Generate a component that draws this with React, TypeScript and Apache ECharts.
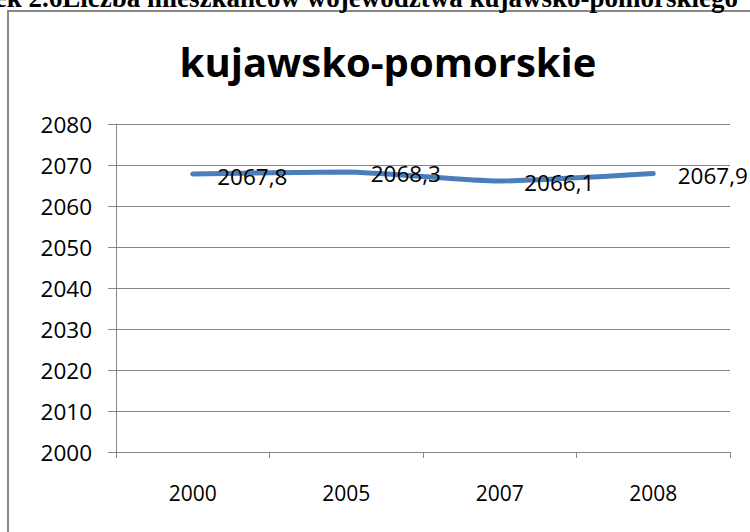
import React, { useEffect, useRef } from "react";
import * as echarts from "echarts";

const categories = ["2000", "2005", "2007", "2008"];
const values = [2067.8, 2068.3, 2066.1, 2067.9];
const yMin = 2000;
const yMax = 2080;
const yInterval = 10;
const chartTitle = "kujawsko-pomorskie";
const caption = "Rysunek 2.6Liczba mieszkańców województwa kujawsko-pomorskiego";

export default function App() {
  const ref = useRef<HTMLDivElement>(null);
  useEffect(() => {
    if (!ref.current) return;
    const chart = echarts.init(ref.current, null, { renderer: "svg" });
    const font = "'Open Sans', 'Noto Sans', sans-serif";
    chart.setOption({
      animation: false,
      backgroundColor: "#ffffff",
      title: {
        text: chartTitle,
        left: 383,
        top: 36,
        textAlign: "center",
        textStyle: { fontFamily: font, fontWeight: "bold", fontSize: 40, color: "#000" },
      },
      graphic: [
        {
          type: "rect",
          shape: { x: 8, y: 11, width: 800, height: 600 },
          style: { fill: "none", stroke: "#888888", lineWidth: 2 },
          silent: true,
        },
        {
          type: "text",
          x: 738,
          y: 11,
          style: {
            text: caption,
            font: "bold 27px 'Liberation Serif', 'Times New Roman', serif",
            fill: "#000",
            textAlign: "right",
            textVerticalAlign: "bottom",
          },
        },
      ],
      grid: { left: 116, right: 20, top: 124, bottom: 80, containLabel: false },
      xAxis: {
        type: "category",
        data: categories,
        boundaryGap: true,
        axisLine: { lineStyle: { color: "#868686", width: 1 } },
        axisTick: { show: true, length: 6, lineStyle: { color: "#868686" } },
        axisLabel: { fontFamily: font, fontSize: 21, color: "#000", margin: 30 },
      },
      yAxis: {
        type: "value",
        min: yMin,
        max: yMax,
        interval: yInterval,
        axisLine: { show: true, lineStyle: { color: "#868686", width: 1 } },
        axisTick: { show: true, length: 8, lineStyle: { color: "#868686" } },
        axisLabel: {
          fontFamily: font,
          fontSize: 22.5,
          color: "#000",
          margin: 24,
          formatter: (v: number) => String(v),
        },
        splitLine: { show: true, lineStyle: { color: "#868686", width: 1 } },
      },
      series: [
        {
          type: "line",
          data: values,
          smooth: 0.2,
          symbol: "circle",
          symbolSize: 1,
          showSymbol: true,
          itemStyle: { color: "#4a7ebb" },
          lineStyle: { color: "#4a7ebb", width: 5, cap: "round" },
          label: {
            show: true,
            position: "right",
            distance: 24,
            offset: [0, 2],
            fontFamily: font,
            fontSize: 22.5,
            color: "#000",
            formatter: (p: any) => String(p.value).replace(".", ","),
          },
        },
      ],
    });
    return () => chart.dispose();
  }, []);
  return (
    <div
      ref={ref}
      style={{ position: "fixed", left: 0, top: 0, width: 750, height: 532 }}
    />
  );
}
